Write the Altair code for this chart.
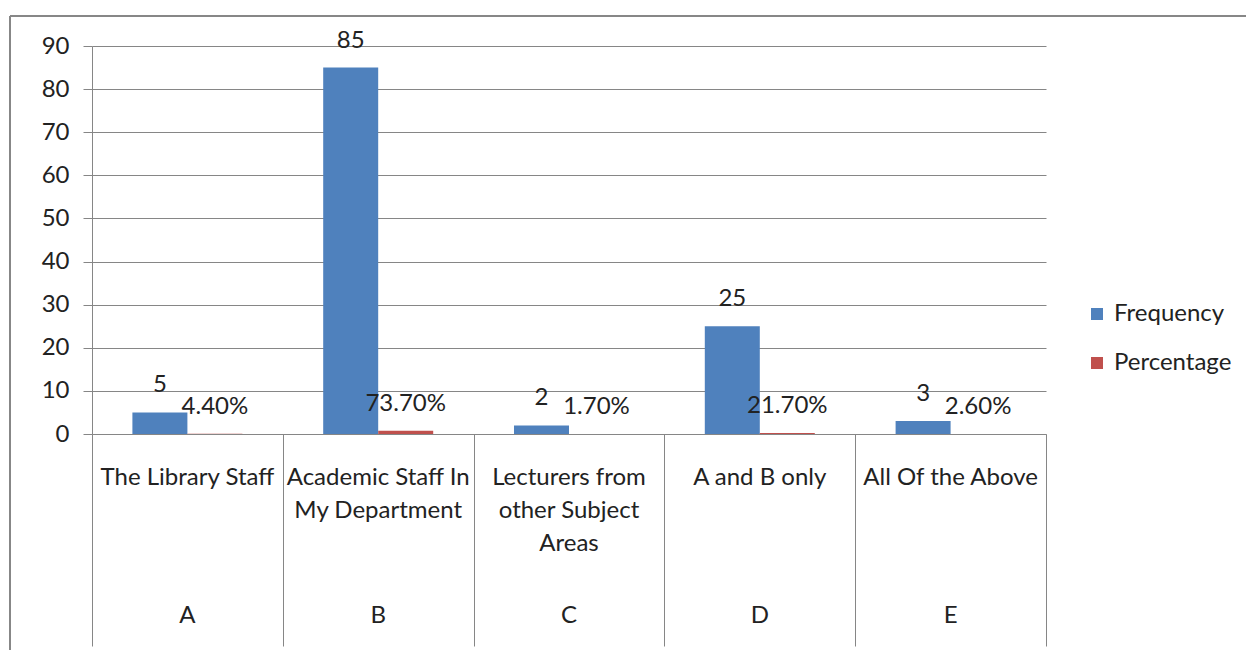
import altair as alt
import pandas as pd

# Survey responses: who students consult
letters = ["A", "B", "C", "D", "E"]
categories = [
    "The Library Staff",
    "Academic Staff In\nMy Department",
    "Lecturers from\nother Subject\nAreas",
    "A and B only",
    "All Of the Above",
]
frequency = [5, 85, 2, 25, 3]
percentage = [0.044, 0.737, 0.017, 0.217, 0.026]

series_names = ["Frequency", "Percentage"]
series_colors = ["#4F81BD", "#C0504D"]

rows = []
for i, letter in enumerate(letters):
    rows.append({"letter": letter, "series": "Frequency", "value": frequency[i],
                 "label": f"{frequency[i]}"})
    rows.append({"letter": letter, "series": "Percentage", "value": percentage[i],
                 "label": f"{percentage[i]:.2%}"})
df = pd.DataFrame(rows)
cat_df = pd.DataFrame({"letter": letters, "category": categories})

FONT = "Lato"
FS = 24
TEXT = "#222222"
GRAY = "#868686"

# Category bands touch each other so the band-edge ticks form the label boxes
x_enc = alt.X(
    "letter:N",
    sort=letters,
    scale=alt.Scale(paddingInner=0, paddingOuter=0),
    axis=alt.Axis(
        labels=False, title=None, grid=False, domainColor=GRAY,
        tickColor=GRAY, tickBand="extent", tickSize=212,
    ),
)
y_enc = alt.Y(
    "value:Q",
    scale=alt.Scale(domain=[0, 90], nice=False),
    axis=alt.Axis(
        values=list(range(0, 91, 10)), title=None, grid=True, gridColor=GRAY,
        tickColor=GRAY, tickSize=9, domainColor=GRAY, labelFontSize=FS,
        labelFont=FONT, labelColor=TEXT, labelPadding=14,
    ),
)
color_enc = alt.Color(
    "series:N",
    scale=alt.Scale(domain=series_names, range=series_colors),
    legend=alt.Legend(
        title=None, orient="none", legendX=993, legendY=256,
        symbolType="square", symbolSize=144, symbolStrokeWidth=0,
        labelFontSize=FS, labelFont=FONT, labelColor=TEXT,
        rowPadding=25, labelOffset=5,
    ),
)
# Two bars per category, centred in the band with wide outer padding
offset_enc = alt.XOffset(
    "series:N", sort=series_names,
    scale=alt.Scale(paddingInner=0, paddingOuter=0.7345),
)

bars = alt.Chart(df).mark_bar().encode(
    x=x_enc, y=y_enc, color=color_enc, xOffset=offset_enc,
)

values = alt.Chart(df).mark_text(
    baseline="middle", dy=-27, fontSize=FS, font=FONT, color=TEXT,
).encode(
    x=alt.X("letter:N", sort=letters), y="value:Q",
    xOffset=offset_enc, text="label:N",
)

cat_text = alt.Chart(cat_df).mark_text(
    baseline="top", lineBreak="\n", lineHeight=33, fontSize=FS,
    font=FONT, color=TEXT,
).encode(
    x=alt.X("letter:N", sort=letters), y=alt.value(420), text="category:N",
)

letter_text = alt.Chart(cat_df).mark_text(
    baseline="middle", fontSize=FS, font=FONT, color=TEXT,
).encode(
    x=alt.X("letter:N", sort=letters), y=alt.value(570), text="letter:N",
)

# Outer chart frame (top and left edges)
frame_top = alt.Chart(cat_df).mark_rule(color="#878787", strokeWidth=2).encode(
    x=alt.value(-82), x2=alt.value(1170), y=alt.value(-30),
)
frame_left = alt.Chart(cat_df).mark_rule(color="#878787", strokeWidth=2).encode(
    x=alt.value(-82), y=alt.value(-30), y2=alt.value(650),
)

chart = alt.layer(
    bars, values, cat_text, letter_text, frame_top, frame_left,
).properties(
    width=954, height=388,
    autosize=alt.AutoSizeParams(type="none"),
    padding={"left": 92, "top": 46, "right": 200, "bottom": 216},
).configure_view(stroke=None)

chart.save("out.html", embed_options={"renderer": "svg", "actions": False})
